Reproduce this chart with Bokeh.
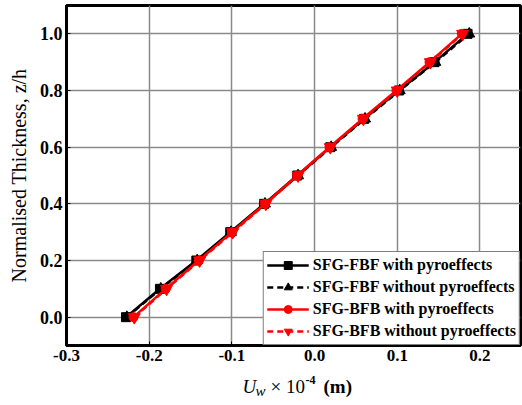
from bokeh.plotting import figure
from bokeh.layouts import column
from bokeh.models import Range1d, FixedTicker, Legend, LegendItem
from bokeh.core.properties import value
from bokeh.embed import file_html
from bokeh.resources import INLINE

z_h = [0.0, 0.1, 0.2, 0.3, 0.4, 0.5, 0.6, 0.7, 0.8, 0.9, 1.0]
fbf_with = [-0.228, -0.187, -0.143, -0.102, -0.061, -0.021, 0.019, 0.060, 0.102, 0.145, 0.185]
fbf_without = [-0.227, -0.186, -0.142, -0.101, -0.060, -0.020, 0.020, 0.061, 0.103, 0.146, 0.187]
bfb_with = [-0.219, -0.180, -0.140, -0.100, -0.060, -0.021, 0.018, 0.058, 0.099, 0.139, 0.178]
bfb_without = [-0.218, -0.179, -0.139, -0.099, -0.059, -0.020, 0.019, 0.059, 0.100, 0.140, 0.179]
x_ticks = [-0.3, -0.2, -0.1, 0.0, 0.1, 0.2]
y_ticks = [0.0, 0.2, 0.4, 0.6, 0.8, 1.0]
legend_labels = ["SFG-FBF with pyroeffects", "SFG-FBF without pyroeffects",
                 "SFG-BFB with pyroeffects", "SFG-BFB without pyroeffects"]

SERIF = "Liberation Serif"
X0, X1 = -0.3, 0.249
LEFT, RIGHT = 66, 2
W, H_MAIN, H_CAP = 522, 369, 36

p = figure(width=W, height=H_MAIN, output_backend="svg", toolbar_location=None,
           x_range=Range1d(X0, X1), y_range=Range1d(-0.1, 1.1),
           min_border_left=LEFT, min_border_right=RIGHT, min_border_top=5, min_border_bottom=24)
p.outline_line_color = "black"
p.outline_line_width = 3
p.background_fill_color = "white"
p.border_fill_color = "white"

for ax in (p.xaxis[0], p.yaxis[0]):
    ax.axis_line_color = "black"
    ax.axis_line_width = 3
    ax.major_tick_in = 4
    ax.major_tick_out = 0
    ax.minor_tick_line_color = None
    ax.major_label_text_font = SERIF
    ax.major_label_text_font_style = "bold"
    ax.major_label_text_color = "black"

p.xaxis.major_label_text_font_size = "17px"
p.yaxis.major_label_text_font_size = "18px"
p.xaxis.ticker = FixedTicker(ticks=x_ticks)
p.yaxis.ticker = FixedTicker(ticks=y_ticks)
p.xaxis.major_label_overrides = {t: f"{t:.1f}" for t in x_ticks}
p.yaxis.major_label_overrides = {t: f"{t:.1f}" for t in y_ticks}
p.xaxis.major_label_standoff = 4
p.yaxis.major_label_standoff = 4

p.yaxis.axis_label = "Normalised Thickness, z/h"
p.yaxis.axis_label_text_font = SERIF
p.yaxis.axis_label_text_font_style = "normal"
p.yaxis.axis_label_text_font_size = "20px"
p.yaxis.axis_label_text_color = "black"
p.yaxis.axis_label_standoff = 7

p.xgrid.ticker = FixedTicker(ticks=x_ticks)
p.ygrid.ticker = FixedTicker(ticks=y_ticks)
p.grid.grid_line_color = "#8a8a8a"
p.grid.grid_line_width = 1.5

lw = 2.5
l1 = p.line(fbf_with, z_h, line_color="black", line_width=lw)
m1 = p.scatter(fbf_with, z_h, marker="square", size=9, color="black")
l2 = p.line(fbf_without, z_h, line_color="black", line_width=lw, line_dash="6 4")
m2 = p.scatter(fbf_without, z_h, marker="triangle", size=11, color="black")
l3 = p.line(bfb_with, z_h, line_color="red", line_width=lw)
m3 = p.scatter(bfb_with, z_h, marker="circle", size=9, color="red")
l4 = p.line(bfb_without, z_h, line_color="red", line_width=lw, line_dash="6 4")
m4 = p.scatter(bfb_without, z_h, marker="inverted_triangle", size=12, color="red")

legend = Legend(items=[
    LegendItem(label=legend_labels[0], renderers=[l1, m1]),
    LegendItem(label=legend_labels[1], renderers=[l2, m2]),
    LegendItem(label=legend_labels[2], renderers=[l3, m3]),
    LegendItem(label=legend_labels[3], renderers=[l4, m4]),
], location="bottom_right")
legend.label_text_font = SERIF
legend.label_text_font_style = "bold"
legend.label_text_font_size = "16px"
legend.label_text_color = "black"
legend.glyph_width = 42
legend.glyph_height = 20
legend.label_height = 20
legend.label_standoff = 4
legend.spacing = 2
legend.padding = 3
legend.margin = 0
legend.border_line_color = "black"
legend.border_line_width = 1.5
legend.background_fill_alpha = 1.0
p.add_layout(legend, "center")

# x-axis title strip (italic U_w, superscript -4), sharing the x range of the chart
cap = figure(width=W, height=H_CAP, output_backend="svg", toolbar_location=None,
             x_range=p.x_range, y_range=Range1d(H_MAIN + H_CAP, H_MAIN),
             min_border_left=LEFT, min_border_right=RIGHT, min_border_top=0, min_border_bottom=0)
cap.axis.visible = False
cap.grid.visible = False
cap.outline_line_color = None
cap.background_fill_color = "white"
cap.border_fill_color = "white"

frame_w = W - LEFT - RIGHT

def to_x(px):
    return X0 + (px - LEFT) * (X1 - X0) / frame_w

def lab(px, py, text, style="normal", size="19px"):
    cap.text(x=[to_x(px)], y=[py], text=[text], text_font=value(SERIF), text_font_style=style,
             text_font_size=size, text_color="black", text_baseline="alphabetic",
             text_align="left")

lab(242, 386, "U", "italic", "19px")
lab(255, 390, "w", "italic", "15px")
lab(270, 386, "× 10", "normal", "19px")
lab(305, 379, "-4", "bold", "12px")
lab(323, 386, "(m)", "bold", "19px")

layout = column(p, cap, spacing=0)
open("out.html", "w").write(file_html(layout, INLINE))
